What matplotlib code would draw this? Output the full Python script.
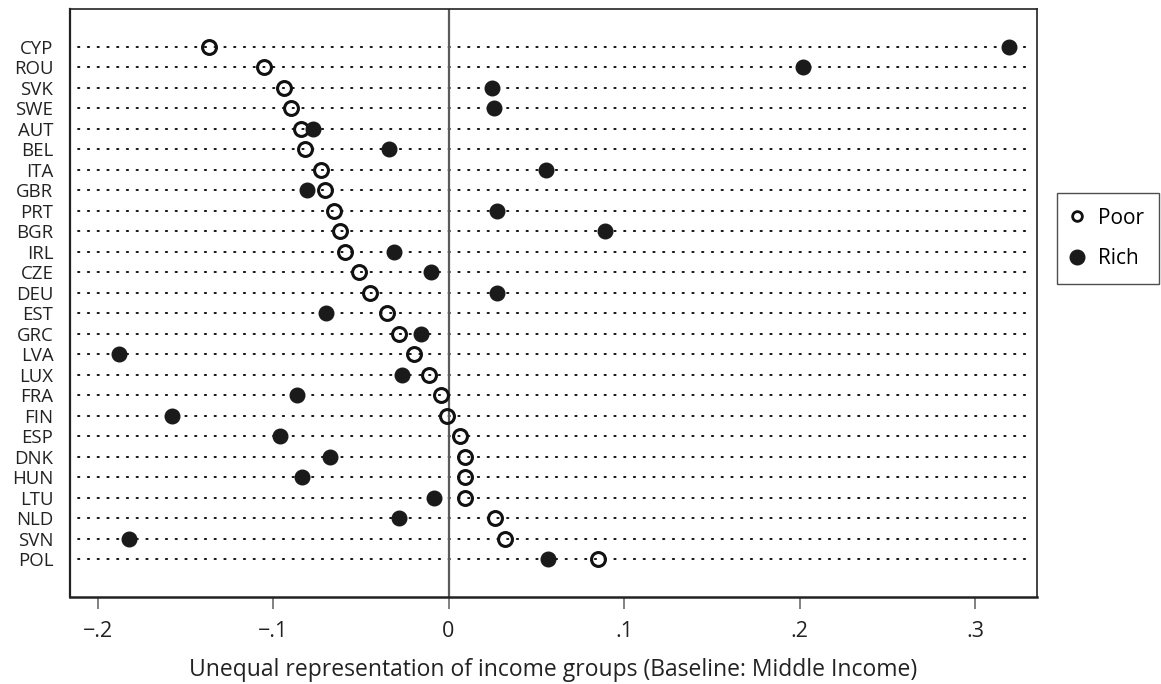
import matplotlib.pyplot as plt
from matplotlib.lines import Line2D

plt.rcParams['font.family'] = ['Open Sans', 'DejaVu Sans']

countries = ['CYP', 'ROU', 'SVK', 'SWE', 'AUT', 'BEL', 'ITA', 'GBR', 'PRT', 'BGR',
             'IRL', 'CZE', 'DEU', 'EST', 'GRC', 'LVA', 'LUX', 'FRA', 'FIN', 'ESP',
             'DNK', 'HUN', 'LTU', 'NLD', 'SVN', 'POL']
poor = [-0.1365, -0.1050, -0.0939, -0.0897, -0.0840, -0.0818, -0.0726, -0.0704, -0.0651, -0.0618,
        -0.0592, -0.0510, -0.0447, -0.0352, -0.0282, -0.0195, -0.0109, -0.0044, -0.0010, 0.0064,
        0.0092, 0.0092, 0.0094, 0.0265, 0.0322, 0.0854]
rich = [0.3196, 0.2018, 0.0250, 0.0257, -0.0770, -0.0339, 0.0554, -0.0808, 0.0276, 0.0894,
        -0.0310, -0.0101, 0.0278, -0.0696, -0.0157, -0.1879, -0.0263, -0.0865, -0.1574, -0.0958,
        -0.0675, -0.0837, -0.0081, -0.0280, -0.1819, 0.0569]
xticks = [-0.2, -0.1, 0, 0.1, 0.2, 0.3]
xticklabels = ['\u2212.2', '\u2212.1', '0', '.1', '.2', '.3']

fig = plt.figure(figsize=(11.61, 6.84), dpi=100)
ax = fig.add_axes([0.0603, 0.1272, 0.8329, 0.8592])

rows = list(range(len(countries)))

# dotted guide lines
for r in rows:
    ax.plot([-0.211, 0.3313], [r, r], color='black', lw=1.3,
            linestyle=(0, (0.8, 4.6)), dash_capstyle='round', zorder=1)

ax.axvline(0, color='#5a5a5a', lw=1.6, zorder=2)

ax.plot(poor, rows, 'o', ms=10, mfc='none', mec='#111111', mew=2.2, zorder=3)
ax.plot(rich, rows, 'o', ms=10.5, mfc='#1a1a1a', mec='#1a1a1a', zorder=3)

ax.set_xlim(-0.2157, 0.3353)
ax.set_ylim(25 + 1.84, -1.82)

ax.set_yticks(rows)
ax.set_yticklabels(countries)
ax.tick_params(axis='y', length=0, pad=12, labelsize=13.4, colors='#222222')
ax.set_xticks(xticks)
ax.set_xticklabels(xticklabels)
ax.tick_params(axis='x', length=8.5, width=1.3, color='#777777', pad=9,
               labelsize=15.5, labelcolor='#222222')

for s in ax.spines.values():
    s.set_linewidth(1.2)
    s.set_color('#222222')
ax.spines['left'].set_linewidth(1.6)
ax.spines['bottom'].set_linewidth(1.8)

ax.set_xlabel('Unequal representation of income groups (Baseline: Middle Income)',
              fontsize=16.5, color='#222222', labelpad=11)

handles = [
    Line2D([], [], ls='none', marker='o', ms=7, mfc='none', mec='#111111', mew=2),
    Line2D([], [], ls='none', marker='o', ms=10.5, mfc='#1a1a1a', mec='#1a1a1a'),
]
leg = fig.legend(handles, ['Poor', 'Rich'], loc='upper right',
                 bbox_to_anchor=(1159 / 1161, 1 - 193 / 684), fontsize=15,
                 frameon=True, fancybox=False, edgecolor='#222222',
                 handlelength=0.5, handletextpad=0.8, borderpad=0.7,
                 labelspacing=0.95, borderaxespad=0)
leg.get_frame().set_linewidth(1.0)

fig.savefig('out.png', dpi=100)
